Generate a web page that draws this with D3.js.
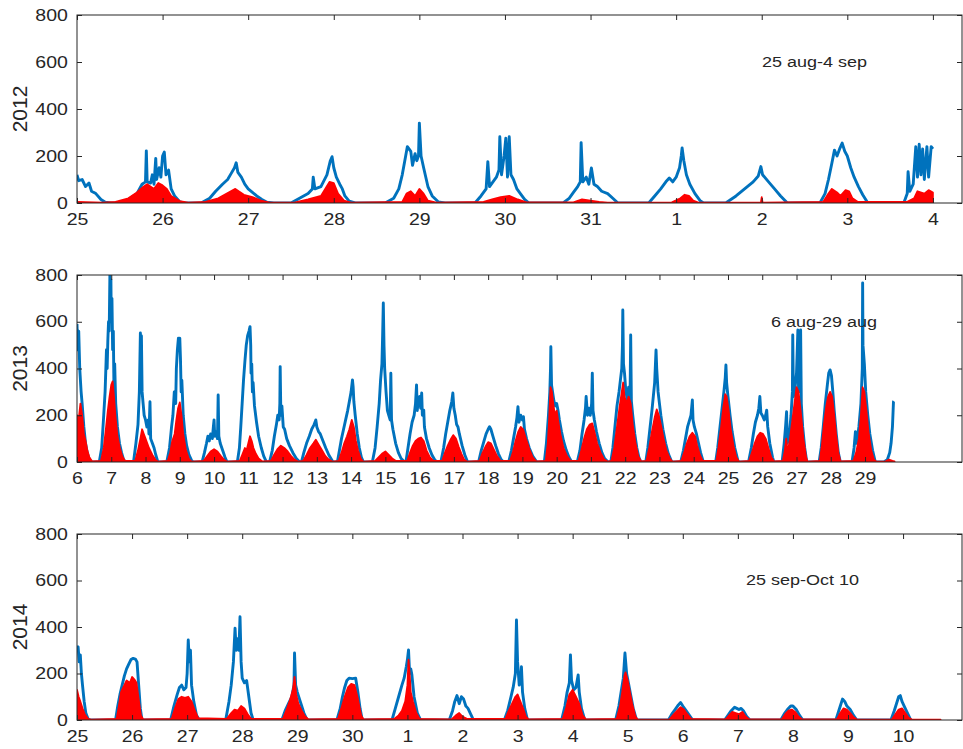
<!DOCTYPE html>
<html>
<head>
<meta charset="utf-8">
<script src="https://cdn.jsdelivr.net/npm/d3@7/dist/d3.min.js"></script>
<style>
  html, body { margin: 0; padding: 0; background: #fff; }
  svg { display: block; }
  text { font-family: "Liberation Sans", Arial, Helvetica, sans-serif; fill: #262626; }
</style>
</head>
<body>
<svg id="chart" width="963" height="749"></svg>
<script>
// ---- data: time in days from the first labelled day of each period ----
const yTicks = [0, 200, 400, 600, 800];
const yearLabels = ["2012", "2013", "2014"];
const periodLabels = ["25 aug-4 sep", "6 aug-29 aug", "25 sep-Oct 10"];

const dayTicks2012 = ["25","26","27","28","29","30","31","1","2","3","4"];
const dayTicks2013 = ["6","7","8","9","10","11","12","13","14","15","16","17","18","19","20","21","22","23","24","25","26","27","28","29"];
const dayTicks2014 = ["25","26","27","28","29","30","1","2","3","4","5","6","7","8","9","10"];

const blue2012 = [
  [0,120],[0.02,95],[0.06,100],[0.1,70],[0.14,85],[0.17,50],[0.22,40],[0.28,15],[0.33,3],[0.4,0],
  [0.5,0],[0.6,15],[0.7,40],[0.76,80],[0.8,90],[0.81,222],[0.82,90],[0.86,85],[0.88,120],[0.9,80],[0.92,190],[0.93,100],[0.96,150],[0.98,110],[1.0,200],[1.02,217],[1.04,120],[1.07,140],[1.1,60],[1.14,30],[1.2,5],[1.25,0],
  [1.45,0],[1.55,20],[1.62,50],[1.7,80],[1.76,100],[1.8,125],[1.84,150],[1.86,171],[1.88,130],[1.92,110],[1.96,80],[2.0,60],[2.05,45],[2.1,30],[2.16,15],[2.22,3],[2.3,0],
  [2.5,0],[2.6,20],[2.7,40],[2.75,60],[2.76,110],[2.78,60],[2.85,70],[2.92,120],[2.96,180],[2.98,197],[3.0,150],[3.03,110],[3.07,80],[3.1,60],[3.13,30],[3.18,8],[3.25,0],
  [3.6,0],[3.7,20],[3.76,60],[3.8,120],[3.84,200],[3.86,240],[3.9,220],[3.92,160],[3.95,210],[3.97,180],[3.99,200],[4.0,340],[4.02,200],[4.05,150],[4.1,70],[4.15,30],[4.22,5],[4.3,0],
  [4.65,0],[4.72,30],[4.78,60],[4.8,176],[4.82,70],[4.86,90],[4.9,110],[4.93,140],[4.94,282],[4.96,120],[4.99,200],[5.01,276],[5.03,110],[5.05,282],[5.07,120],[5.1,100],[5.14,60],[5.18,40],[5.23,15],[5.28,0],
  [5.68,0],[5.75,20],[5.8,45],[5.85,70],[5.88,90],[5.89,257],[5.91,90],[5.95,110],[5.98,80],[6.01,149],[6.04,80],[6.08,70],[6.13,50],[6.2,40],[6.26,20],[6.32,0],
  [6.68,0],[6.75,30],[6.82,60],[6.88,90],[6.92,106],[6.96,90],[7.0,110],[7.04,150],[7.06,200],[7.07,234],[7.09,180],[7.12,120],[7.16,80],[7.22,40],[7.28,10],[7.32,0],
  [7.58,0],[7.7,30],[7.8,60],[7.9,90],[7.96,115],[7.99,155],[8.01,120],[8.08,90],[8.15,60],[8.22,30],[8.3,0],
  [8.68,0],[8.74,40],[8.78,100],[8.82,170],[8.85,225],[8.88,200],[8.91,230],[8.94,255],[8.97,220],[9.0,200],[9.04,150],[9.08,110],[9.13,70],[9.18,35],[9.24,0],
  [9.66,0],[9.7,40],[9.71,133],[9.73,50],[9.77,80],[9.8,240],[9.82,110],[9.84,250],[9.86,120],[9.88,230],[9.9,100],[9.93,240],[9.95,110],[9.98,240],[10.0,230]
];
const red2012 = [
  [0,5],[0.3,2],
  [0.45,5],[0.6,20],[0.7,45],[0.78,70],[0.82,80],[0.9,60],[0.95,85],[1.0,75],[1.05,60],[1.1,30],[1.2,8],[1.3,2],
  [1.5,5],[1.65,20],[1.75,40],[1.85,60],[1.95,35],[2.05,25],[2.15,10],[2.25,2],
  [2.55,3],[2.7,15],[2.85,30],[2.9,60],[2.95,90],[3.0,85],[3.05,40],[3.12,10],[3.2,2],
  [3.8,5],[3.85,40],[3.9,50],[3.95,30],[4.0,60],[4.05,40],[4.1,10],[4.2,2],
  [4.75,5],[4.85,15],[4.95,25],[5.05,30],[5.15,15],[5.25,3],
  [5.8,3],[5.9,15],[6.0,10],[6.1,5],[6.2,2],
  [6.95,3],[7.05,20],[7.1,35],[7.15,30],[7.2,10],[7.26,2],
  [7.99,2],[8.0,25],[8.01,2],
  [8.72,5],[8.78,40],[8.82,60],[8.88,45],[8.92,30],[8.98,55],[9.02,50],[9.06,20],[9.12,5],
  [9.7,5],[9.78,20],[9.82,50],[9.9,40],[9.95,55],[10.0,45]
];

const blue2013 = [
  [0,590],[0.02,480],[0.05,560],[0.08,400],[0.12,300],[0.15,250],[0.2,150],[0.25,80],[0.3,40],[0.36,10],[0.42,0],
  [0.65,0],[0.72,60],[0.78,200],[0.82,300],[0.86,480],[0.88,400],[0.9,520],[0.92,600],[0.94,560],[0.96,800],[0.97,650],[0.99,780],[1.0,600],[1.02,700],[1.04,480],[1.06,560],[1.08,300],[1.1,420],[1.13,250],[1.18,150],[1.24,80],[1.3,40],[1.36,10],[1.42,0],
  [1.65,0],[1.72,80],[1.78,160],[1.82,300],[1.85,552],[1.86,420],[1.88,540],[1.9,300],[1.93,250],[1.96,200],[2.0,180],[2.04,150],[2.08,180],[2.1,120],[2.13,258],[2.15,100],[2.2,80],[2.25,60],[2.3,30],[2.36,0],
  [2.62,0],[2.7,60],[2.76,150],[2.8,200],[2.84,300],[2.88,250],[2.9,400],[2.93,480],[2.96,530],[2.98,500],[3.0,530],[3.02,440],[3.04,300],[3.06,350],[3.1,200],[3.15,120],[3.2,70],[3.27,30],[3.35,5],[3.4,0],
  [3.65,0],[3.72,40],[3.78,80],[3.82,110],[3.86,90],[3.9,120],[3.95,100],[3.98,150],[4.0,180],[4.02,110],[4.06,130],[4.1,100],[4.12,287],[4.14,110],[4.18,80],[4.25,50],[4.32,20],[4.38,0],
  [4.68,0],[4.74,60],[4.78,150],[4.82,250],[4.86,350],[4.9,430],[4.94,500],[4.98,540],[5.02,560],[5.05,579],[5.07,500],[5.08,380],[5.1,420],[5.12,300],[5.14,340],[5.18,240],[5.24,170],[5.3,110],[5.38,60],[5.45,25],[5.53,0],
  [5.62,0],[5.7,50],[5.76,110],[5.82,160],[5.86,200],[5.9,180],[5.92,250],[5.93,408],[5.95,200],[5.98,240],[6.02,150],[6.06,140],[6.12,100],[6.2,70],[6.3,40],[6.4,15],[6.5,0],
  [6.55,0],[6.62,40],[6.7,80],[6.78,110],[6.85,140],[6.92,160],[6.97,180],[7.0,150],[7.05,130],[7.1,120],[7.18,90],[7.26,60],[7.35,30],[7.45,5],[7.5,0],
  [7.6,0],[7.66,50],[7.72,100],[7.78,140],[7.84,180],[7.9,220],[7.95,260],[8.0,300],[8.04,351],[8.06,320],[8.08,260],[8.12,200],[8.18,120],[8.24,60],[8.3,20],[8.36,0],
  [8.62,0],[8.7,60],[8.76,150],[8.82,250],[8.86,350],[8.9,420],[8.92,540],[8.94,680],[8.96,500],[8.98,400],[9.02,300],[9.06,220],[9.1,200],[9.14,180],[9.16,380],[9.18,180],[9.22,140],[9.3,80],[9.38,40],[9.46,15],[9.56,0],
  [9.6,0],[9.66,60],[9.72,120],[9.78,170],[9.84,200],[9.88,250],[9.91,330],[9.93,220],[9.96,260],[10.0,280],[10.03,230],[10.06,295],[10.08,200],[10.12,222],[10.14,150],[10.2,100],[10.28,60],[10.36,30],[10.44,10],[10.5,0],
  [10.62,0],[10.7,60],[10.76,120],[10.82,170],[10.88,220],[10.94,260],[10.97,295],[11.0,230],[11.04,200],[11.08,160],[11.12,150],[11.16,120],[11.24,70],[11.32,30],[11.4,0],
  [11.72,0],[11.8,50],[11.88,90],[11.94,120],[12.0,140],[12.04,151],[12.08,140],[12.14,110],[12.22,70],[12.3,35],[12.38,10],[12.45,0],
  [12.6,0],[12.68,50],[12.74,100],[12.8,150],[12.84,190],[12.87,237],[12.9,170],[12.95,200],[13.0,180],[13.03,194],[13.06,140],[13.12,100],[13.2,60],[13.3,25],[13.42,0],
  [13.64,0],[13.7,80],[13.76,200],[13.8,300],[13.82,400],[13.83,493],[13.85,330],[13.88,300],[13.92,260],[13.96,240],[14.0,250],[14.04,220],[14.08,180],[14.14,130],[14.2,90],[14.28,50],[14.36,20],[14.44,0],
  [14.6,0],[14.68,50],[14.74,120],[14.8,180],[14.84,230],[14.86,280],[14.9,200],[14.94,230],[14.98,200],[15.02,250],[15.04,380],[15.06,220],[15.1,180],[15.16,130],[15.24,80],[15.32,40],[15.4,15],[15.5,0],
  [15.58,0],[15.64,60],[15.7,150],[15.76,240],[15.82,300],[15.86,350],[15.9,400],[15.92,500],[15.93,650],[15.95,420],[15.98,380],[16.02,300],[16.06,270],[16.1,320],[16.14,250],[16.16,543],[16.18,260],[16.22,200],[16.28,120],[16.34,60],[16.4,20],[16.46,0],
  [16.6,0],[16.66,60],[16.72,140],[16.78,220],[16.82,280],[16.86,340],[16.9,479],[16.92,400],[16.96,300],[17.0,250],[17.04,200],[17.1,140],[17.18,80],[17.26,35],[17.36,0],
  [17.62,0],[17.7,50],[17.76,100],[17.82,150],[17.88,180],[17.92,200],[17.96,265],[17.98,180],[18.02,150],[18.08,120],[18.14,80],[18.2,40],[18.28,0],
  [18.64,0],[18.7,60],[18.76,140],[18.82,220],[18.88,300],[18.92,360],[18.94,415],[18.96,340],[19.0,280],[19.06,200],[19.12,130],[19.2,60],[19.3,0],
  [19.6,0],[19.68,60],[19.74,120],[19.8,170],[19.86,200],[19.9,230],[19.93,280],[19.96,210],[20.0,200],[20.06,180],[20.1,200],[20.13,222],[20.16,150],[20.22,80],[20.3,20],[20.34,0],
  [20.58,0],[20.64,80],[20.68,150],[20.71,215],[20.73,80],[20.78,100],[20.84,200],[20.88,300],[20.89,543],[20.91,280],[20.96,320],[21.0,380],[21.04,565],[21.06,300],[21.1,350],[21.12,565],[21.14,250],[21.18,150],[21.24,60],[21.3,0],
  [21.66,0],[21.72,60],[21.78,150],[21.84,250],[21.9,330],[21.94,380],[21.98,394],[22.02,370],[22.06,300],[22.1,220],[22.16,120],[22.22,40],[22.28,0],
  [22.62,0],[22.68,60],[22.72,130],[22.76,80],[22.82,150],[22.88,250],[22.92,400],[22.93,766],[22.94,500],[22.98,420],[23.02,300],[23.08,200],[23.14,120],[23.22,50],[23.3,0],
  [23.55,0],[23.65,10],[23.72,40],[23.76,80],[23.8,150],[23.83,258],[23.84,260]
];
const red2013 = [
  [0,200],[0.04,170],[0.1,250],[0.15,200],[0.2,120],[0.25,90],[0.3,50],[0.36,20],[0.44,3],
  [0.7,5],[0.78,60],[0.85,150],[0.9,220],[0.95,280],[1.0,330],[1.04,345],[1.08,280],[1.12,200],[1.18,110],[1.25,60],[1.32,25],[1.4,5],
  [1.7,5],[1.78,50],[1.85,100],[1.9,140],[1.95,120],[2.0,100],[2.05,80],[2.1,60],[2.2,30],[2.3,8],[2.36,2],
  [2.65,5],[2.72,40],[2.78,90],[2.85,120],[2.9,180],[2.95,230],[3.0,255],[3.05,200],[3.1,120],[3.18,50],[3.26,15],[3.34,2],
  [3.7,5],[3.8,25],[3.9,45],[4.0,55],[4.1,45],[4.2,25],[4.3,8],[4.38,2],
  [4.75,5],[4.82,30],[4.9,60],[4.95,50],[5.0,80],[5.05,110],[5.1,90],[5.15,60],[5.22,35],[5.3,15],[5.4,3],
  [5.66,5],[5.75,30],[5.85,55],[5.95,70],[6.05,60],[6.15,45],[6.25,25],[6.35,10],[6.45,2],
  [6.6,5],[6.7,30],[6.8,60],[6.9,80],[6.97,95],[7.05,75],[7.15,50],[7.25,25],[7.35,10],[7.45,2],
  [7.64,5],[7.72,40],[7.8,80],[7.88,110],[7.95,140],[8.02,180],[8.08,150],[8.14,90],[8.2,50],[8.28,15],[8.35,2],
  [8.7,5],[8.8,20],[8.9,35],[9.0,45],[9.1,30],[9.2,15],[9.3,5],
  [9.64,5],[9.72,40],[9.8,70],[9.88,90],[9.96,100],[10.04,105],[10.12,90],[10.2,50],[10.3,20],[10.4,5],
  [10.66,5],[10.74,40],[10.82,70],[10.9,95],[10.98,115],[11.06,100],[11.14,65],[11.22,35],[11.3,10],[11.38,2],
  [11.75,5],[11.84,40],[11.92,65],[12.0,85],[12.08,80],[12.16,55],[12.26,25],[12.36,5],
  [12.64,5],[12.72,40],[12.8,90],[12.88,130],[12.95,150],[13.02,140],[13.1,100],[13.2,55],[13.3,20],[13.4,3],
  [13.68,5],[13.74,80],[13.78,180],[13.82,320],[13.86,300],[13.9,250],[13.95,200],[14.0,220],[14.05,170],[14.12,110],[14.2,60],[14.3,25],[14.4,5],
  [14.64,5],[14.72,50],[14.8,100],[14.88,140],[14.96,160],[15.04,165],[15.1,130],[15.18,80],[15.28,40],[15.38,12],[15.48,2],
  [15.6,5],[15.68,60],[15.76,150],[15.84,240],[15.9,300],[15.94,340],[15.98,280],[16.04,250],[16.1,280],[16.16,250],[16.22,160],[16.3,80],[16.38,25],[16.46,3],
  [16.62,5],[16.7,60],[16.78,130],[16.86,190],[16.92,225],[16.98,200],[17.04,160],[17.12,100],[17.2,50],[17.3,15],[17.38,2],
  [17.64,5],[17.72,40],[17.8,80],[17.88,110],[17.96,125],[18.04,110],[18.1,70],[18.18,30],[18.26,5],
  [18.66,5],[18.72,60],[18.8,150],[18.86,230],[18.92,290],[18.96,280],[19.02,220],[19.08,140],[19.16,70],[19.24,20],[19.32,2],
  [19.62,5],[19.7,40],[19.78,80],[19.86,110],[19.94,125],[20.02,120],[20.1,100],[20.18,60],[20.26,20],[20.34,3],
  [20.6,5],[20.66,50],[20.7,100],[20.74,40],[20.8,90],[20.88,180],[20.94,250],[21.0,320],[21.06,300],[21.12,220],[21.2,100],[21.28,20],[21.32,2],
  [21.68,5],[21.74,70],[21.8,160],[21.86,230],[21.92,280],[21.98,300],[22.04,280],[22.1,200],[22.16,110],[22.22,40],[22.28,3],
  [22.66,5],[22.74,40],[22.82,100],[22.88,200],[22.93,320],[22.98,300],[23.04,220],[23.1,130],[23.18,50],[23.26,10],[23.32,2],
  [23.6,3],[23.7,10],[23.8,5],[23.86,3]
];

const blue2014 = [
  [0,300],[0.02,315],[0.04,250],[0.06,280],[0.08,200],[0.1,150],[0.13,80],[0.16,30],[0.2,5],[0.24,0],
  [0.7,0],[0.74,60],[0.78,110],[0.82,150],[0.86,190],[0.9,220],[0.94,240],[0.98,260],[1.02,265],[1.06,262],[1.09,250],[1.12,150],[1.15,50],[1.18,0],
  [1.7,0],[1.76,60],[1.82,110],[1.86,140],[1.9,150],[1.94,130],[1.98,140],[2.0,200],[2.02,344],[2.04,250],[2.06,300],[2.08,150],[2.12,80],[2.17,20],[2.22,0],
  [2.7,0],[2.76,80],[2.8,150],[2.84,250],[2.87,395],[2.89,300],[2.92,350],[2.94,300],[2.96,444],[2.98,250],[3.0,180],[3.04,160],[3.08,170],[3.12,100],[3.16,30],[3.2,0],
  [3.72,0],[3.78,40],[3.84,70],[3.9,100],[3.94,150],[3.95,288],[3.97,150],[4.0,120],[4.04,90],[4.08,60],[4.12,30],[4.18,0],
  [4.72,0],[4.78,50],[4.82,100],[4.86,140],[4.9,170],[4.94,180],[5.0,178],[5.06,180],[5.1,120],[5.14,50],[5.18,0],
  [5.72,0],[5.78,50],[5.84,100],[5.9,150],[5.94,180],[5.98,230],[6.0,260],[6.02,301],[6.04,200],[6.06,220],[6.08,196],[6.12,100],[6.18,30],[6.24,0],
  [6.76,0],[6.82,40],[6.86,80],[6.9,105],[6.94,70],[6.98,100],[7.02,90],[7.06,60],[7.1,50],[7.14,30],[7.2,0],
  [7.76,0],[7.82,40],[7.88,100],[7.92,140],[7.96,200],[7.98,430],[8.0,250],[8.03,150],[8.06,180],[8.07,229],[8.09,120],[8.13,50],[8.18,0],
  [8.8,0],[8.86,60],[8.9,120],[8.94,160],[8.96,280],[8.98,170],[9.02,130],[9.06,140],[9.1,194],[9.12,120],[9.16,50],[9.22,0],
  [9.78,0],[9.84,60],[9.88,120],[9.92,180],[9.95,288],[9.98,200],[10.02,150],[10.06,100],[10.1,50],[10.16,0],
  [10.74,0],[10.8,25],[10.86,45],[10.92,65],[10.96,75],[11.0,60],[11.06,40],[11.12,20],[11.18,0],
  [11.76,0],[11.82,20],[11.88,40],[11.94,55],[11.98,50],[12.02,45],[12.06,50],[12.1,40],[12.16,15],[12.22,0],
  [12.78,0],[12.84,25],[12.9,45],[12.96,60],[13.0,60],[13.06,45],[13.12,20],[13.18,0],
  [13.78,0],[13.82,30],[13.86,60],[13.9,90],[13.94,80],[13.98,60],[14.04,45],[14.1,20],[14.16,0],
  [14.78,0],[14.84,40],[14.88,70],[14.92,100],[14.95,105],[14.98,80],[15.02,60],[15.08,30],[15.14,0]
];
const red2014 = [
  [0,130],[0.03,100],[0.06,80],[0.1,50],[0.14,25],[0.2,5],[0.26,2],
  [0.72,5],[0.76,60],[0.8,120],[0.86,150],[0.9,170],[0.96,160],[1.0,185],[1.04,175],[1.08,160],[1.12,90],[1.16,20],[1.2,3],
  [1.72,5],[1.78,50],[1.84,90],[1.9,100],[1.96,95],[2.02,100],[2.08,80],[2.14,40],[2.2,8],
  [2.72,5],[2.8,30],[2.86,45],[2.92,40],[2.98,60],[3.04,50],[3.1,25],[3.16,5],
  [3.74,5],[3.8,40],[3.86,80],[3.92,130],[3.95,185],[3.98,110],[4.02,70],[4.08,40],[4.14,15],[4.2,3],
  [4.74,5],[4.8,50],[4.86,100],[4.92,140],[4.98,155],[5.04,150],[5.1,90],[5.16,20],[5.2,3],
  [5.76,5],[5.84,20],[5.9,40],[5.96,80],[6.0,150],[6.02,260],[6.04,200],[6.06,120],[6.1,80],[6.16,30],[6.22,5],
  [6.8,3],[6.88,20],[6.94,30],[7.0,15],[7.08,5],
  [7.78,5],[7.84,40],[7.9,70],[7.96,100],[8.0,110],[8.05,80],[8.1,50],[8.15,15],[8.2,3],
  [8.82,5],[8.88,50],[8.94,110],[9.0,130],[9.06,100],[9.12,70],[9.18,20],[9.24,3],
  [9.8,5],[9.86,60],[9.9,120],[9.94,190],[9.96,205],[10.0,170],[10.04,120],[10.08,70],[10.14,15],[10.18,2],
  [10.76,3],[10.84,25],[10.9,40],[10.96,55],[11.02,45],[11.08,25],[11.15,5],
  [11.78,3],[11.84,20],[11.9,35],[11.96,30],[12.02,25],[12.08,35],[12.14,15],[12.2,3],
  [12.8,3],[12.86,25],[12.92,40],[12.98,45],[13.04,35],[13.1,15],[13.16,3],
  [13.8,3],[13.86,30],[13.92,50],[13.98,45],[14.04,30],[14.1,12],[14.16,2],
  [14.8,3],[14.86,25],[14.92,45],[14.98,50],[15.04,30],[15.1,10],[15.16,2],
  [15.68,2]
];

// ---- layout ----
const svg = d3.select("#chart");
const left = 77, right = 962;
const BLUE = "#0072BD", RED = "#FF0000", INK = "#262626";
const FONT = "'Liberation Sans', Arial, Helvetica, sans-serif";
const STRETCH = 1.22;   // labels are drawn slightly wide

const panels = [
  { year: yearLabels[0], note: periodLabels[0], ticks: dayTicks2012, span: 10.34,
    top: 15, bottom: 203, blue: blue2012, red: red2012, noteX: 762, noteY: 63 },
  { year: yearLabels[1], note: periodLabels[1], ticks: dayTicks2013, span: 25.83,
    top: 275, bottom: 462, blue: blue2013, red: red2013, noteX: 771, noteY: 323 },
  { year: yearLabels[2], note: periodLabels[2], ticks: dayTicks2014, span: 16.07,
    top: 534, bottom: 720, blue: blue2014, red: red2014, noteX: 746, noteY: 581 }
];

panels.forEach((p, i) => {
  const x = d3.scaleLinear().domain([0, p.span]).range([left, right]);
  const y = d3.scaleLinear().domain([0, 800]).range([p.bottom, p.top]);
  const g = svg.append("g");

  const clipId = "clip" + i;
  svg.append("clipPath").attr("id", clipId)
    .append("rect").attr("x", left).attr("y", p.top)
    .attr("width", right - left).attr("height", p.bottom - p.top);

  const plot = g.append("g").attr("clip-path", `url(#${clipId})`);

  const line = d3.line().x(d => x(d[0])).y(d => y(d[1]));
  const area = d3.area().x(d => x(d[0])).y0(y(0)).y1(d => y(d[1]));

  plot.append("path").datum(p.blue)
    .attr("d", line).attr("fill", "none")
    .attr("stroke", BLUE).attr("stroke-width", 2.9).attr("stroke-linejoin", "round");

  plot.append("path").datum(p.red)
    .attr("d", area).attr("fill", RED)
    .attr("stroke", RED).attr("stroke-width", 1.8).attr("stroke-linejoin", "round");

  // axes box
  g.append("rect").attr("x", left).attr("y", p.top)
    .attr("width", right - left).attr("height", p.bottom - p.top)
    .attr("fill", "none").attr("stroke", INK).attr("stroke-width", 1);

  // x ticks (inward, bottom and top)
  const tickIdx = p.ticks.map((t, k) => k);
  const xAxisB = d3.axisBottom(x).tickValues(tickIdx)
    .tickFormat(k => p.ticks[k]).tickSizeInner(-5).tickSizeOuter(0).tickPadding(11);
  const gxb = g.append("g").attr("transform", `translate(0,${p.bottom})`).call(xAxisB);
  const xAxisT = d3.axisTop(x).tickValues(tickIdx).tickFormat("").tickSizeInner(-5).tickSizeOuter(0);
  const gxt = g.append("g").attr("transform", `translate(0,${p.top})`).call(xAxisT);

  // y ticks (inward, left and right)
  const yAxisL = d3.axisLeft(y).tickValues(yTicks).tickFormat(d3.format("d"))
    .tickSizeInner(-5).tickSizeOuter(0).tickPadding(7.5);
  const gyl = g.append("g").attr("transform", `translate(${left},0)`).call(yAxisL);
  const yAxisR = d3.axisRight(y).tickValues(yTicks).tickFormat("").tickSizeInner(-5).tickSizeOuter(0);
  const gyr = g.append("g").attr("transform", `translate(${right},0)`).call(yAxisR);

  [gxb, gxt, gyl, gyr].forEach(a => {
    a.select(".domain").remove();
    a.selectAll("line").attr("stroke", INK);
  });
  [gxb, gyl].forEach(a => a.selectAll("text")
    .attr("font-size", 16).attr("fill", INK).attr("font-family", FONT)
    .attr("transform", `scale(${STRETCH},1)`));

  // year label
  g.append("text")
    .attr("transform", `translate(27,${(p.top + p.bottom) / 2}) rotate(-90)`)
    .attr("text-anchor", "middle").attr("font-size", 21).text(p.year);

  // period note
  g.append("text")
    .attr("transform", `translate(${p.noteX},${p.noteY}) scale(1.2,1)`)
    .attr("dominant-baseline", "middle").attr("font-size", 15).text(p.note);
});
</script>
</body>
</html>
